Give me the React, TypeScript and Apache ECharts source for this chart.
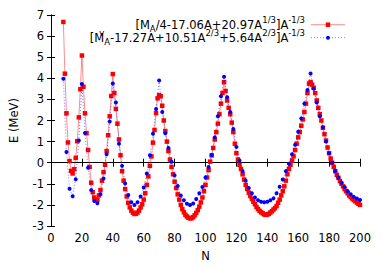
import React, { useEffect, useRef } from "react";
import * as echarts from "echarts";

// Red series: E (MeV) at every integer N starting at N = 8
const RED_START_N = 8;
const redE = [
  6.67, 4.22, 2.34, 0.96, 0.08, -0.39, -0.51, -0.31, 0.23, 1.02,
  2.15, 3.48, 5.08, 3.6, 2.34, 1.4, 0.6, -0.2, -0.95, -1.4,
  -1.65, -1.75, -1.77, -1.55, -1.3, -0.85, -0.45, -0.1, 0.55, 1.3,
  2.2, 3.16, 4.2, 3.3, 2.55, 1.85, 1.1, 0.35, -0.4, -0.85,
  -1.25, -1.6, -1.9, -2.12, -2.27, -2.37, -2.43, -2.42, -2.36, -2.27,
  -2.12, -1.97, -1.75, -1.45, -1.05, -0.65, -0.15, 0.3, 0.95, 1.55,
  2.35, 3.05, 3.2, 3.15, 2.7, 2.0, 1.5, 1.0, 0.55, 0.15,
  -0.2, -0.55, -0.9, -1.2, -1.5, -1.75, -2.0, -2.2, -2.35, -2.47,
  -2.55, -2.61, -2.64, -2.63, -2.58, -2.49, -2.38, -2.25, -2.08, -1.88,
  -1.65, -1.35, -1.05, -0.7, -0.35, 0.05, 0.35, 0.7, 1.1, 1.45,
  1.85, 2.3, 2.8, 3.3, 3.82, 3.4, 2.95, 2.6, 2.3, 1.9,
  1.45, 0.9, 0.45, 0.15, -0.1, -0.3, -0.55, -0.8, -1.05, -1.25,
  -1.42, -1.58, -1.72, -1.85, -1.97, -2.1, -2.2, -2.28, -2.35, -2.4,
  -2.45, -2.47, -2.46, -2.42, -2.36, -2.3, -2.22, -2.15, -2.05, -1.9,
  -1.75, -1.55, -1.35, -1.12, -0.85, -0.55, -0.3, -0.1, 0.1, 0.3,
  0.6, 0.9, 1.2, 1.45, 1.75, 2.05, 2.4, 2.8, 3.3, 3.75,
  3.82, 3.7, 3.55, 3.3, 2.95, 2.6, 2.3, 2.0, 1.65, 1.35,
  1.05, 0.72, 0.45, 0.2, 0.0, -0.2, -0.4, -0.58, -0.72, -0.87,
  -1.0, -1.12, -1.25, -1.35, -1.45, -1.55, -1.63, -1.7, -1.77, -1.83,
  -1.89, -1.95, -2.0,
];

// Blue series: E (MeV) at every even N starting at N = 8
const BLUE_START_N = 8;
const BLUE_STEP_N = 2;
const blueE = [
  3.98, 0.51, -1.23, -1.59, -0.78, 1.05, 3.73, 1.41, -0.24, -1.3,
  -1.82, -1.92, -1.5, -0.75, 0.4, 1.95, 3.75, 2.85, 0.9, -0.15,
  -0.98, -1.53, -1.87, -2.0, -1.87, -1.6, -1.18, -0.51, 0.35, 1.37,
  2.54, 3.9, 2.4, 1.4, 0.7, 0.05, -0.6, -1.1, -1.55, -1.78,
  -1.95, -2.0, -1.93, -1.72, -1.45, -1.15, -0.7, -0.2, 0.35, 1.2,
  2.2, 3.15, 4.07, 3.1, 2.4, 1.6, 0.75, 0.1, -0.4, -0.85,
  -1.2, -1.45, -1.65, -1.78, -1.85, -1.87, -1.85, -1.78, -1.69, -1.45,
  -1.14, -0.8, -0.4, -0.05, 0.4, 0.85, 1.47, 2.1, 2.8, 3.45,
  4.23, 3.51, 2.85, 2.2, 1.68, 1.0, 0.45, 0.0, -0.4, -0.7,
  -0.95, -1.15, -1.35, -1.5, -1.62, -1.7, -1.77,
];

const X_MIN = 0;
const X_MAX = 200;
const X_INTERVAL = 20;
const Y_MIN = -3;
const Y_MAX = 7;
const Y_INTERVAL = 1;

const X_NAME = "N";
const Y_NAME = "E (MeV)";

// Legend labels (rich text: sub/sup scripts)
const legendRed = "{n|[M}{sub|A}{n|/4-17.06A+20.97A}{sup|1/3}{n|]A}{sup|-1/3}";
const legendBlue =
  "{n|[M}{supz|v}{sub|A}{n|-17.27A+10.51A}{sup|2/3}{n|+5.64A}{sup|2/3}{n|]A}{sup|-1/3}";

const FONT = "DejaVu Sans";
const RED = "#ff0000";
const BLUE = "#0000ff";

export default function App() {
  const ref = useRef<HTMLDivElement>(null);

  useEffect(() => {
    const chart = echarts.init(ref.current!, null, { renderer: "svg" });

    const redData = redE.map((e, i) => [RED_START_N + i, e]);
    const blueData = blueE.map((e, i) => [BLUE_START_N + i * BLUE_STEP_N, e]);

    const labelStyle = { fontFamily: FONT, fontSize: 11.5, color: "#000" };
    const axisLine = { show: true, lineStyle: { color: "#000", width: 1 } };
    const tick = { show: true, inside: true, length: 4, lineStyle: { color: "#000", width: 1 } };

    const rich = {
      n: { fontFamily: FONT, fontSize: 11.5, lineHeight: 18, fill: "#000" },
      sub: { fontFamily: FONT, fontSize: 8.5, lineHeight: 11, verticalAlign: "bottom", fill: "#000" },
      sup: { fontFamily: FONT, fontSize: 8.5, lineHeight: 8, verticalAlign: "top", fill: "#000" },
      supz: { fontFamily: FONT, fontSize: 8.5, lineHeight: 8, verticalAlign: "top", width: 0, fill: "#000" },
    };

    const legendTextX = 305;
    const row1Y = 24.7;
    const row2Y = 37.7;
    const sampleX1 = 311;
    const sampleX2 = 345;
    const sampleXC = 328;

    chart.setOption({
      animation: false,
      backgroundColor: "#fff",
      grid: { left: 50, right: 22, top: 15, bottom: 39, show: false },
      xAxis: [
        {
          type: "value",
          min: X_MIN,
          max: X_MAX,
          interval: X_INTERVAL,
          position: "bottom",
          axisLine,
          axisTick: tick,
          axisLabel: { ...labelStyle, margin: 6 },
          splitLine: { show: false },
          name: X_NAME,
          nameLocation: "middle",
          nameGap: 24,
          nameTextStyle: labelStyle,
        },
        {
          type: "value",
          min: X_MIN,
          max: X_MAX,
          interval: X_INTERVAL,
          position: "top",
          axisLine,
          axisTick: tick,
          axisLabel: { show: false },
          splitLine: { show: false },
        },
      ],
      yAxis: [
        {
          type: "value",
          min: Y_MIN,
          max: Y_MAX,
          interval: Y_INTERVAL,
          position: "left",
          axisLine,
          axisTick: tick,
          axisLabel: { ...labelStyle, margin: 7 },
          splitLine: { show: false },
          name: Y_NAME,
          nameLocation: "middle",
          nameGap: 31,
          nameTextStyle: labelStyle,
        },
        {
          type: "value",
          min: Y_MIN,
          max: Y_MAX,
          interval: Y_INTERVAL,
          position: "right",
          axisLine,
          axisTick: tick,
          axisLabel: { show: false },
          splitLine: { show: false },
        },
      ],
      series: [
        {
          name: "red",
          type: "line",
          xAxisIndex: 0,
          yAxisIndex: 0,
          data: redData,
          symbol: "rect",
          symbolSize: 4.5,
          showAllSymbol: true,
          itemStyle: { color: RED },
          lineStyle: { color: RED, width: 1, opacity: 0.45 },
          z: 2,
        },
        {
          name: "blue",
          type: "line",
          xAxisIndex: 0,
          yAxisIndex: 0,
          data: blueData,
          symbol: "circle",
          symbolSize: 4,
          showAllSymbol: true,
          itemStyle: { color: BLUE },
          lineStyle: { color: BLUE, width: 1, opacity: 0.5, type: [1, 2] },
          z: 3,
        },
      ],
      graphic: [
        {
          type: "text",
          x: legendTextX,
          y: row1Y,
          style: { text: legendRed, align: "right", verticalAlign: "middle", rich },
          z: 10,
        },
        {
          type: "text",
          x: legendTextX,
          y: row2Y,
          style: { text: legendBlue, align: "right", verticalAlign: "middle", rich },
          z: 10,
        },
        {
          type: "line",
          shape: { x1: sampleX1, y1: row1Y, x2: sampleX2, y2: row1Y },
          style: { stroke: RED, lineWidth: 1, opacity: 0.45 },
          z: 10,
        },
        {
          type: "rect",
          shape: { x: sampleXC - 2.25, y: row1Y - 2.25, width: 4.5, height: 4.5 },
          style: { fill: RED },
          z: 11,
        },
        {
          type: "line",
          shape: { x1: sampleX1, y1: row2Y, x2: sampleX2, y2: row2Y },
          style: { stroke: BLUE, lineWidth: 1, opacity: 0.5, lineDash: [1, 2] },
          z: 10,
        },
        {
          type: "circle",
          shape: { cx: sampleXC, cy: row2Y, r: 2 },
          style: { fill: BLUE },
          z: 11,
        },
      ],
    });

    return () => chart.dispose();
  }, []);

  return (
    <div
      ref={ref}
      style={{ position: "fixed", left: 0, top: 0, width: 382, height: 267 }}
    />
  );
}
